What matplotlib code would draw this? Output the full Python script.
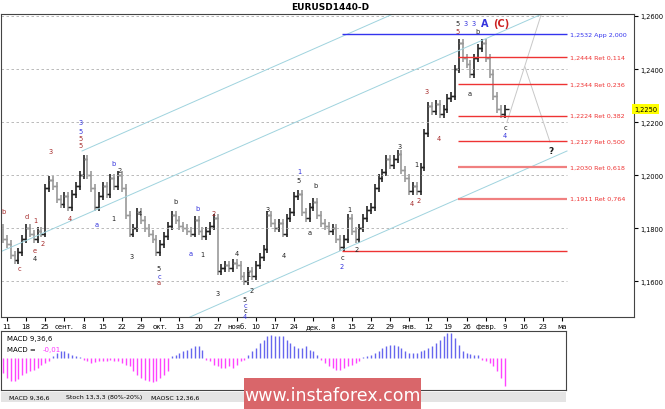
import numpy as np
import matplotlib
matplotlib.use("Agg")
import matplotlib.pyplot as plt

# ---------------- data ----------------
closes = [
 1.1830,1.1810,1.1800,1.1760,1.1740,
 1.1700,1.1680,1.1710,1.1760,1.1800,
 1.1780,1.1760,1.1790,1.1780,1.1950,
 1.1980,1.1960,1.1910,1.1890,1.1920,
 1.1880,1.1930,1.1960,1.2000,1.2060,
 1.2000,1.1950,1.1880,1.1920,1.1960,
 1.1930,1.1990,1.1960,1.2000,1.1950,
 1.1850,1.1780,1.1800,1.1860,1.1830,
 1.1800,1.1780,1.1760,1.1710,1.1740,
 1.1770,1.1810,1.1850,1.1830,1.1810,
 1.1800,1.1790,1.1780,1.1830,1.1790,
 1.1770,1.1790,1.1810,1.1840,1.1640,
 1.1650,1.1660,1.1650,1.1670,1.1660,
 1.1620,1.1600,1.1640,1.1620,1.1660,
 1.1690,1.1720,1.1850,1.1820,1.1800,
 1.1820,1.1780,1.1840,1.1860,1.1920,
 1.1930,1.1860,1.1840,1.1880,1.1900,
 1.1850,1.1820,1.1810,1.1790,1.1800,
 1.1760,1.1730,1.1760,1.1840,1.1790,
 1.1760,1.1800,1.1840,1.1870,1.1880,
 1.1950,1.1990,1.2010,1.2060,1.2040,
 1.2060,1.2080,1.2020,1.1990,1.1940,
 1.1960,1.1940,1.2030,1.2160,1.2260,
 1.2240,1.2270,1.2230,1.2250,1.2290,
 1.2300,1.2400,1.2500,1.2440,1.2420,
 1.2380,1.2440,1.2480,1.2500,1.2440,
 1.2380,1.2300,1.2250,1.2230,1.2250,
]
wick = 0.0015
macd = ([-10,-20,-30,-45,-60,-68,-70,-62,-52,-45,-40,-35,-30,-22,-15,-8]
        + [5,15,20,20,15,8,5,3]
        + [-5,-10,-15,-12,-8,-10,-10,-5,-8,-10,-15,-20,-25,-40,-50,-60,-65,-70,-72,-68,-60,-50,-40]
        + [5,10,15,20,25,30,35,35,25]
        + [-5,-10,-20,-25,-30,-30,-25,-30,-20,-10,-5]
        + [10,20,30,45,55,65,70,65,65,65,55,45,35,30,30,35,25,20,10]
        + [-5,-15,-25,-30,-35,-35,-30,-25,-20,-15,-10]
        + [2,5,10,15,20,30,35,40,40,35,30,20,15,15,15,20,25,30,35,45,55,65,75,75,60,40,20,15,12,10,8]
        + [-5,-10,-15,-25,-40,-60,-85])
date_labels = ["11","18","25","сент.","8","15","22","29","окт.","13","20","27","нояб.",
               "10","17","24","дек.","8","15","22","29","янв.","12","19","26","февр.","9","16","23","ма"]
levels = [1.2444,1.2344,1.2224,1.2127,1.2030,1.1911]
level_names = ["1,2444 Ret 0,114","1,2344 Ret 0,236","1,2224 Ret 0,382","1,2127 Ret 0,500",
               "1,2030 Ret 0,618","1,1911 Ret 0,764"]
app_level = 1.2532
support_level = 1.1714
price_ticks = [1.16,1.18,1.20,1.22,1.24,1.26]
last_price = 1.2250

# ---------------- geometry helpers ----------------
W, H = 665, 410
fig = plt.figure(figsize=(6.65,4.10), dpi=100)
fig.patch.set_facecolor("white")
PX_BAR = 3.83
def px2x(px): return 4 + (px-7)/PX_BAR
def py2y(py): return 1.26 - (py-17)*0.000377

ax = fig.add_axes([1/W, 1-318/H, 633/W, 303/H])
ax.set_xlim(px2x(1), px2x(634))
ax.set_ylim(py2y(318), py2y(15))
for s in ax.spines.values():
    s.set_linewidth(0.8); s.set_color("#444")

n = len(closes)
xs = np.arange(n) + (134-(n-1))
opens = [closes[0]+0.002] + closes[:-1]
for x,o,c in zip(xs, opens, closes):
    col = "#222" if c >= o else "#9a9a9a"
    hi = max(o,c)+wick; lo = min(o,c)-wick
    ax.vlines(x, lo, hi, color=col, lw=1.2)
    ax.hlines(o, x-1.0, x, color=col, lw=1)
    ax.hlines(c, x, x+1.0, color=col, lw=1)

# grid
xend = px2x(567)
for p in price_ticks:
    ax.hlines(p, ax.get_xlim()[0], xend, color="#b0b0b0", lw=0.6, ls=(0,(3,3)))

# channel lines
def pline(p1, p2, color, lw=0.7):
    ax.plot([px2x(p1[0]), px2x(p2[0])], [py2y(p1[1]), py2y(p2[1])], color=color, lw=lw)
pline((82,152),(393,15),"#9fd3de")
pline((0,253),(542,15),"#9fd3de")
pline((190,318),(567,152),"#9fd3de")
pline((507,123),(542,13),"#c8c8c8")
pline((525,68),(550,143),"#c8c8c8")

# levels
ax.hlines(app_level, px2x(342), xend, color="#3333ee", lw=1)
ax.text(px2x(570), app_level, "1,2532 App 2,000", color="#3333ee", fontsize=4.6, va="center")
for i,(lv,nm) in enumerate(zip(levels, level_names)):
    light = i >= 4
    ax.hlines(lv, px2x(458), xend, color="#f08080" if light else "#ee3333", lw=1.6 if light else 1)
    ax.text(px2x(570), lv, nm, color="#ee3333", fontsize=4.6, va="center")
ax.hlines(support_level, px2x(342), xend, color="#ee3333", lw=1)

# axis ticks
ax.yaxis.tick_right()
ax.set_yticks(price_ticks)
ax.set_yticklabels([f"{p:.4f}".replace(".",",") for p in price_ticks], fontsize=4.8)
ax.tick_params(axis="y", length=3, pad=1.5)
tick_x = [4+5*k for k in range(len(date_labels))]
ax.set_xticks(tick_x)
ax.set_xticklabels(date_labels, fontsize=5)
ax.tick_params(axis="x", length=3, pad=1.5)
ax.text(1.0, last_price, "1,2250", transform=ax.get_yaxis_transform(), fontsize=4.8,
        va="center", ha="left", bbox=dict(boxstyle="square,pad=0.25", fc="#ffff00", ec="none"))
fig.text(330/W, 1-7/H, "EURUSD1440-D", fontsize=6.5, weight="bold", ha="center", va="center")

# wave labels (pixel positions)
DR, BL, BK = "#a52a2a", "#3333dd", "#222"
labels = [
 (4,212,"b",DR),(19,269,"c",DR),(27,217,"d",DR),(35,221,"1",DR),(35,251,"e",DR),(35,259,"4",BK),
 (43,244,"2",DR),(51,152,"3",DR),(70,219,"4",DR),(81,123,"3",BL),(81,132,"5",BL),(81,139,"5",DR),
 (81,146,"5",DR),(113,164,"b",BL),(97,225,"a",BL),(120,171,"2",BK),(113,219,"1",BK),(140,214,"4",BK),
 (132,257,"3",BK),(159,269,"5",BK),(159,277,"c",BL),(159,283,"a",DR),(175,202,"b",BK),(198,209,"b",BL),
 (191,254,"a",BL),(202,255,"1",BK),(214,214,"2",DR),(218,294,"3",BK),(237,254,"4",BK),(248,275,"1",BK),
 (252,291,"2",BK),(245,300,"5",BK),(245,306,"c",BL),(245,311,"c",BK),(245,317,"4",BL),(268,210,"3",BK),
 (284,256,"4",BK),(299,172,"1",BL),(299,181,"5",BK),(315,186,"b",BK),(310,233,"a",BK),(349,210,"1",BK),
 (357,250,"2",BK),(342,258,"c",BK),(342,267,"2",BL),(400,147,"3",BK),(416,165,"1",BK),(412,204,"4",DR),
 (419,201,"2",DR),(427,92,"3",DR),(439,139,"4",DR),(458,24,"5",BK),(458,32,"5",DR),(466,24,"3",BL),
 (474,24,"3",BL),(478,32,"b",BK),(470,94,"a",BK),(505,128,"c",BK),(505,136,"4",BL),
]
for px,py,t,c in labels:
    fig.text(px/W, 1-py/H, t, color=c, fontsize=4.8, ha="center", va="center")
fig.text(485/W, 1-24/H, "A", color=BL, fontsize=7, weight="bold", ha="center", va="center")
fig.text(501/W, 1-24/H, "(C)", color="#cc2222", fontsize=7, weight="bold", ha="center", va="center")
fig.text(551/W, 1-152/H, "?", color=BK, fontsize=6.5, weight="bold", ha="center", va="center")

# MACD panel
mx = fig.add_axes([1/W, 1-391/H, 565/W, 59/H])
m = np.array(macd)
mxs = np.arange(len(m)) + (134-(len(m)-1))
mx.vlines(mxs, 0, m, colors=["#6666ee" if v > 0 else "#ff44ff" for v in m], lw=1)
mx.set_xlim(px2x(1), px2x(566))
mx.set_ylim(-96, 81)
mx.set_xticks([]); mx.set_yticks([])
for s in mx.spines.values():
    s.set_linewidth(0.8); s.set_color("#444")
mx.text(0.01, 0.93, "MACD 9,36,6", transform=mx.transAxes, fontsize=5, va="top")
mx.text(0.01, 0.74, "MACD = ", transform=mx.transAxes, fontsize=5, va="top")
mx.text(0.073, 0.74, "-0,01", transform=mx.transAxes, fontsize=5, va="top", color="#ff33ff")

# tab strip
tab = fig.add_axes([1/W, 1-403/H, 565/W, 10/H])
tab.set_facecolor("#e4e4e4"); tab.set_xticks([]); tab.set_yticks([])
for s in tab.spines.values(): s.set_visible(False)
for x0,t in [(0.015,"MACD 9,36,6"),(0.115,"Stoch 13,3,3 (80%-20%)"),(0.265,"MAOSC 12,36,6")]:
    tab.text(x0, 0.5, t, fontsize=4.5, va="center")

# watermark
wm = fig.add_axes([244/W, 0, 177/W, 31/H])
wm.set_facecolor("#d9666a"); wm.set_xticks([]); wm.set_yticks([])
for s in wm.spines.values(): s.set_visible(False)
wm.text(0.5, 0.45, "www.instaforex.com", color="white", fontsize=12.5, ha="center", va="center")

fig.savefig("out.png", dpi=100)
